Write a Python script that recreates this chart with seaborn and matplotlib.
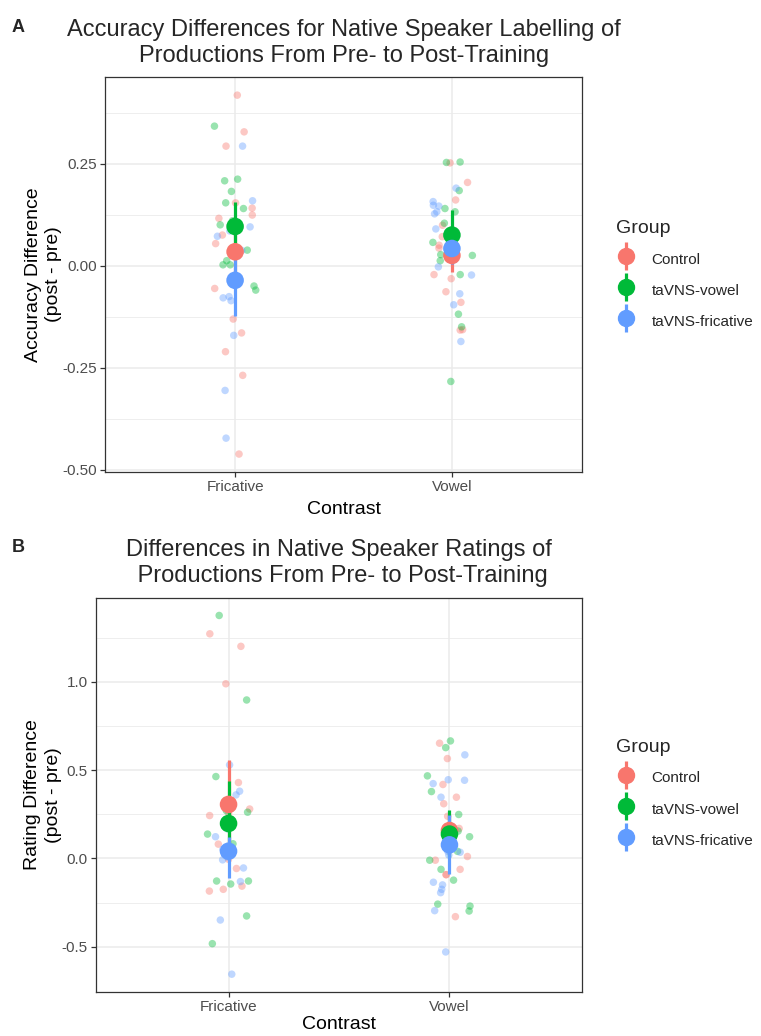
import numpy as np
import pandas as pd
import matplotlib
matplotlib.use("Agg")
import matplotlib.pyplot as plt
from matplotlib.lines import Line2D
from matplotlib.legend_handler import HandlerTuple
from matplotlib.ticker import FixedLocator
import seaborn as sns

# ---------------- data ----------------
contrasts = ["Fricative", "Vowel"]
groups = ["Control", "taVNS-vowel", "taVNS-fricative"]
palette = {"Control": "#F8766D", "taVNS-vowel": "#00BA38", "taVNS-fricative": "#619CFF"}

# Panel A: accuracy differences (individual participants)
acc_fric_control = [0.418, 0.328, 0.293, 0.154, 0.141, 0.124, 0.116, 0.075, 0.054, 0.030,
                    -0.056, -0.131, -0.165, -0.211, -0.269, -0.462]
acc_fric_vowel = [0.342, 0.212, 0.208, 0.182, 0.154, 0.140, 0.110, 0.100, 0.043, 0.038,
                  0.012, 0.002, 0.002, -0.050, -0.060]
acc_fric_fric = [0.293, 0.159, 0.095, 0.085, 0.072, 0.037, 0.023, -0.076, -0.079, -0.086,
                 -0.171, -0.306, -0.423]
acc_vow_control = [0.252, 0.204, 0.161, 0.099, 0.071, 0.057, 0.050, 0.043, 0.020, -0.022,
                   -0.032, -0.064, -0.090, -0.157, -0.158]
acc_vow_vowel = [0.254, 0.253, 0.184, 0.140, 0.132, 0.104, 0.057, 0.057, 0.027, 0.025,
                 0.012, -0.022, -0.119, -0.150, -0.284]
acc_vow_fric = [0.190, 0.157, 0.148, 0.146, 0.132, 0.127, 0.090, 0.014, -0.003, -0.023,
                -0.069, -0.096, -0.186]

# Panel A summaries (mean and interval), order: Fricative x groups, Vowel x groups
acc_mean = [0.034, 0.096, -0.036, 0.025, 0.075, 0.042]
acc_low = [-0.020, 0.040, -0.123, -0.016, 0.020, 0.005]
acc_high = [0.090, 0.155, 0.040, 0.070, 0.137, 0.085]

# Panel B: rating differences
rat_fric_control = [1.273, 1.202, 0.990, 0.430, 0.280, 0.280, 0.257, 0.243, 0.081, -0.005,
                    -0.057, -0.157, -0.175, -0.185]
rat_fric_vowel = [1.377, 0.898, 0.464, 0.270, 0.262, 0.138, 0.083, -0.128, -0.128, -0.145,
                  -0.326, -0.483]
rat_fric_fric = [0.530, 0.381, 0.360, 0.168, 0.123, 0.056, 0.051, 0.008, -0.008, -0.054,
                 -0.131, -0.349, -0.656]
rat_vow_control = [0.653, 0.566, 0.419, 0.347, 0.310, 0.239, 0.170, 0.070, 0.011, -0.010,
                   -0.062, -0.092, -0.092, -0.330]
rat_vow_vowel = [0.666, 0.628, 0.468, 0.379, 0.249, 0.185, 0.155, 0.123, 0.040, -0.010,
                 -0.062, -0.123, -0.259, -0.270, -0.298]
rat_vow_fric = [0.587, 0.446, 0.443, 0.424, 0.347, 0.040, 0.035, 0.019, -0.135, -0.150,
                -0.175, -0.194, -0.296, -0.530]

rat_mean = [0.306, 0.198, 0.041, 0.158, 0.138, 0.077]
rat_low = [0.070, 0.000, -0.111, 0.060, 0.010, -0.087]
rat_high = [0.556, 0.441, 0.120, 0.250, 0.272, 0.245]

titleA = "Accuracy Differences for Native Speaker Labelling of\nProductions From Pre- to Post-Training"
titleB = "Differences in Native Speaker Ratings of\n Productions From Pre- to Post-Training"
ylabelA = "Accuracy Difference\n(post - pre)"
ylabelB = "Rating Difference\n(post - pre)"
xlabel = "Contrast"
yticksA = [-0.50, -0.25, 0.00, 0.25]
yticksB = [-0.5, 0.0, 0.5, 1.0]


def long_df(series, value):
    rows = []
    keys = [(c, g) for c in contrasts for g in groups]
    for (c, g), vals in zip(keys, series):
        for v in vals:
            rows.append({"Contrast": c, "Group": g, value: v})
    return pd.DataFrame(rows)


def summary_df(means, lows, highs):
    keys = [(c, g) for c in contrasts for g in groups]
    return pd.DataFrame({"Contrast": [k[0] for k in keys], "Group": [k[1] for k in keys],
                         "mean": means, "low": lows, "high": highs})


dfA = long_df([acc_fric_control, acc_fric_vowel, acc_fric_fric,
               acc_vow_control, acc_vow_vowel, acc_vow_fric], "Accuracy")
dfB = long_df([rat_fric_control, rat_fric_vowel, rat_fric_fric,
               rat_vow_control, rat_vow_vowel, rat_vow_fric], "Rating")
sumA = summary_df(acc_mean, acc_low, acc_high)
sumB = summary_df(rat_mean, rat_low, rat_high)

# ---------------- style ----------------
sns.set_style("white")
plt.rcParams["font.family"] = ["Liberation Sans", "DejaVu Sans"]

W, H = 761, 1036
fig = plt.figure(figsize=(W / 100, H / 100), dpi=100)


def px_axes(left, top, right, bottom):
    return fig.add_axes([left / W, 1 - bottom / H, (right - left) / W, (bottom - top) / H])


def draw_panel(ax, df, summ, value, yticks, fmt, ylim, minor, seed, xlabelpad):
    np.random.seed(seed)
    sns.stripplot(data=df, x="Contrast", y=value, hue="Group", order=contrasts,
                  hue_order=groups, palette=palette, jitter=0.1, size=5.4, alpha=0.4,
                  linewidth=0, legend=False, ax=ax, zorder=3)
    pos = {c: i for i, c in enumerate(contrasts)}
    xs = summ["Contrast"].map(pos).to_numpy()
    cols = summ["Group"].map(palette).tolist()
    ax.vlines(xs, summ["low"], summ["high"], colors=cols, lw=2.3, zorder=4)
    ax.scatter(xs, summ["mean"], s=160, c=cols, linewidths=0, zorder=5)
    ax.set_xlim(-0.6, 1.6)
    ax.set_ylim(*ylim)
    ax.set_yticks(yticks)
    ax.set_yticklabels([fmt.format(t) for t in yticks])
    ax.yaxis.set_minor_locator(FixedLocator(minor))
    ax.grid(which="major", color="#EBEBEB", lw=1.1, zorder=0)
    ax.grid(which="minor", axis="y", color="#EBEBEB", lw=0.6, zorder=0)
    ax.set_axisbelow(True)
    for s in ax.spines.values():
        s.set_color("#333333")
        s.set_linewidth(0.9)
    ax.tick_params(axis="both", which="major", length=3.5, width=0.9, color="#333333",
                   labelcolor="#4D4D4D", labelsize=11, pad=2.5, bottom=True, left=True)
    ax.tick_params(axis="both", which="minor", length=0)
    ax.set_xlabel(xlabel, fontsize=14, color="black", labelpad=xlabelpad)


# Panel A
axA = px_axes(105, 77, 582, 472)
draw_panel(axA, dfA, sumA, "Accuracy", yticksA, "{:.2f}", (-0.506, 0.4625),
           [-0.375, -0.125, 0.125, 0.375], 3, 5)
axA.set_ylabel(ylabelA, fontsize=14, color="black", labelpad=0, linespacing=1.25)

# Panel B
axB = px_axes(96, 598, 582, 992)
draw_panel(axB, dfB, sumB, "Rating", yticksB, "{:.1f}", (-0.757, 1.476),
           [-0.25, 0.25, 0.75, 1.25], 7, 1)
axB.set_ylabel(ylabelB, fontsize=14, color="black", labelpad=0, linespacing=1.25)

# Titles and panel letters
fig.text(344 / W, 1 - 43 / H, titleA, ha="center", va="center", fontsize=17,
         linespacing=1.2, multialignment="center")
fig.text(339 / W, 1 - 563 / H, titleB, ha="center", va="center", fontsize=17,
         linespacing=1.2, multialignment="center")
fig.text(12 / W, 1 - 28 / H, "A", fontsize=13, fontweight="bold", va="center", ha="left")
fig.text(12 / W, 1 - 548 / H, "B", fontsize=13, fontweight="bold", va="center", ha="left")

# Legends
def add_legend(ax, top_px):
    handles = []
    for g in groups:
        bar = Line2D([], [], marker="|", markersize=20, markeredgewidth=2.3,
                     color=palette[g], linestyle="none")
        dot = Line2D([], [], marker="o", markersize=11.5, color=palette[g],
                     linestyle="none")
        handles.append((bar, dot))
    leg = ax.legend(handles, groups, title="Group", loc="upper left",
                    bbox_to_anchor=(604 / W, 1 - top_px / H), bbox_transform=fig.transFigure,
                    frameon=False, fontsize=11, title_fontsize=14,
                    handler_map={tuple: HandlerTuple(ndivide=1)},
                    handlelength=1.3, handleheight=1.6, handletextpad=1.0,
                    labelspacing=0.75, alignment="left", borderpad=0.3)
    return leg

add_legend(axA, 208)
add_legend(axB, 727)

fig.savefig("out.png", dpi=100)
